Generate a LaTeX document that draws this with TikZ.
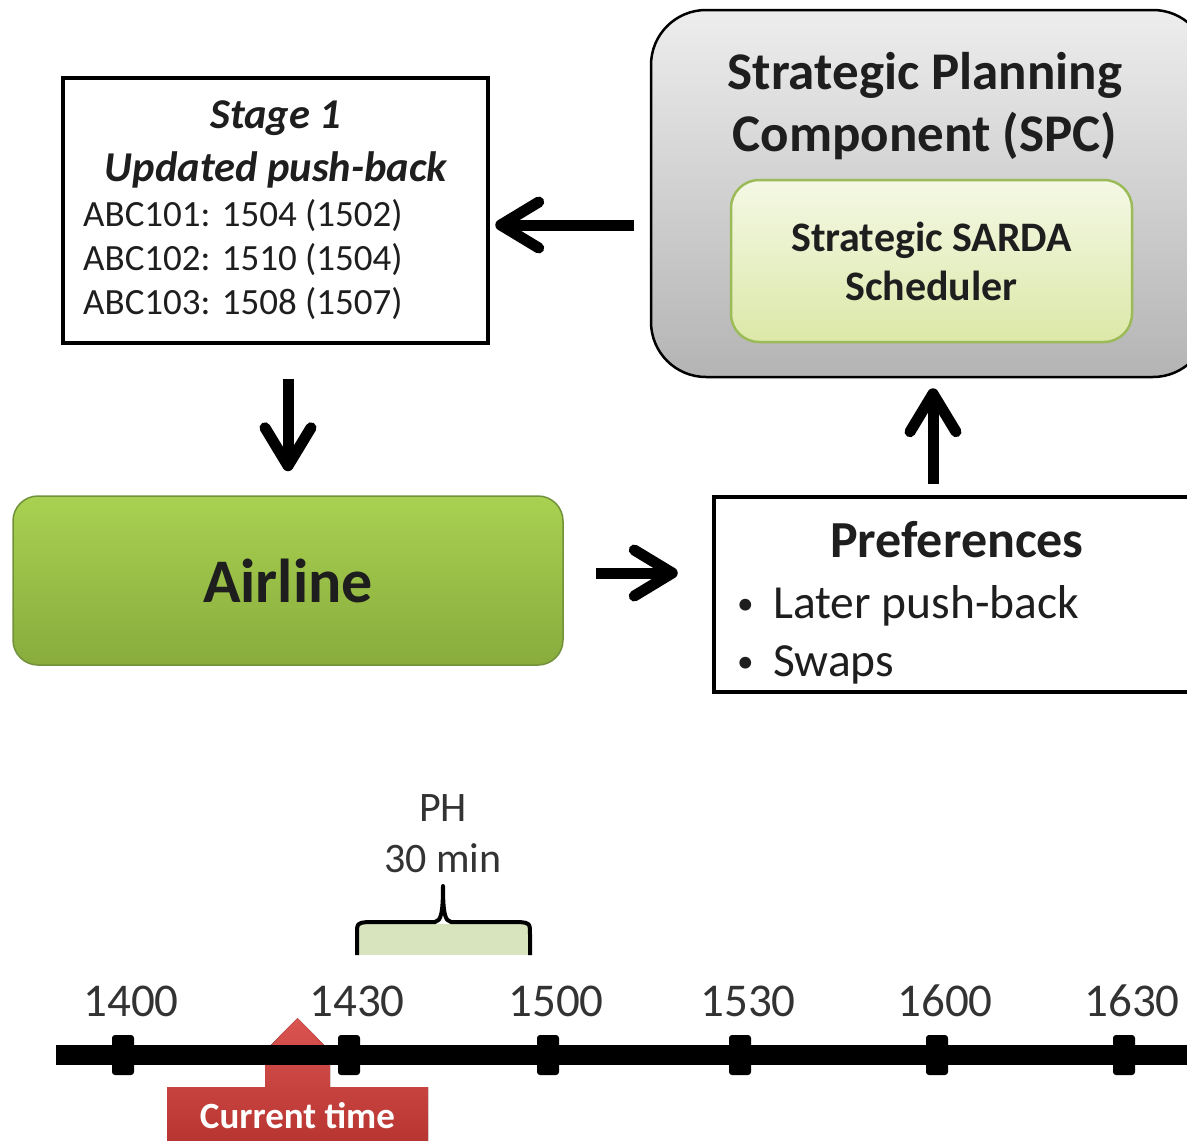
\documentclass[tikz,border=0pt]{standalone}
\usepackage{fontspec}
\setmainfont{Carlito}
\usetikzlibrary{arrows.meta, positioning, calc}

\definecolor{spctop}{HTML}{EDEDED}
\definecolor{spcbot}{HTML}{B4B4B4}
\definecolor{sardatop}{HTML}{F4F8E5}
\definecolor{sardabot}{HTML}{DCE8A8}
\definecolor{sardaline}{HTML}{9BBB59}
\definecolor{airtop}{HTML}{A9D151}
\definecolor{airbot}{HTML}{89AC3D}
\definecolor{airline}{HTML}{71913A}
\definecolor{phfill}{HTML}{D7E4BD}
\definecolor{redtop}{HTML}{DA5450}
\definecolor{redbot}{HTML}{B5332F}
\definecolor{txt}{HTML}{1E1E1E}

\newcommand{\smallbullet}{\makebox[36pt][l]{\raisebox{4pt}{\scalebox{0.7}{\textbullet}}}}

\begin{document}
\begin{tikzpicture}[
    x=1pt, y=-1pt,
    text=txt,
    arrow/.style={line width=11pt, -{Straight Barb[length=38pt, width=46pt, round]}},
    framebox/.style={draw, line width=4.5pt, inner sep=0pt, fill=white},
    spcbox/.style={draw, line width=2.5pt, rounded corners=55pt, top color=spctop, bottom color=spcbot},
    sardabox/.style={draw=sardaline, line width=2.5pt, rounded corners=28pt, top color=sardatop, bottom color=sardabot,
        align=center, font=\fontsize{42}{49}\selectfont\bfseries},
    airbox/.style={draw=airline, line width=1.5pt, rounded corners=25pt, top color=airtop, bottom color=airbot,
        font=\fontsize{62}{70}\selectfont\bfseries},
    tick/.style={fill=black, rounded corners=3pt, minimum width=22pt, minimum height=40pt, inner sep=0pt},
    ticklabel/.style={font=\fontsize{47}{56}\selectfont, text=black!80, inner sep=0pt},
    brace/.style={line width=4pt, line join=round}
]
\path[use as bounding box, clip] (0,0) rectangle (1187,1141);

% planning component with the scheduler inside
\node[spcbox, minimum width=557pt, minimum height=367pt] (spc) at (929.5,193.5) {};
\node[align=center, font=\fontsize{53}{62}\selectfont\bfseries, inner sep=0pt] (spctitle) at (925,106)
    {Strategic Planning\\Component (SPC)};
\node[sardabox, minimum width=401pt, minimum height=162pt] (sarda) at (931.5,261)
    {Strategic SARDA\\Scheduler};

% stage 1 schedule
\node[framebox, minimum width=425pt, minimum height=265pt] (stage) at (275.5,210.5) {};
\node[align=center, font=\fontsize{42.5}{53}\selectfont\bfseries\itshape, inner sep=0pt] (stagetitle) at (276,144.3)
    {Stage 1\\Updated push-back};
\node[align=left, anchor=west, font=\fontsize{37}{44}\selectfont, inner sep=0pt] (stagelist) at (83,260)
    {ABC101: 1504 (1502)\\ABC102: 1510 (1504)\\ABC103: 1508 (1507)};

% airline and its preferences
\node[airbox, minimum width=550pt, minimum height=169pt] (air) at (288,580.5) {Airline};
\node[framebox, minimum width=486pt, minimum height=195pt] (pref) at (957,594.5) {};
\node[anchor=base, font=\fontsize{52}{60}\selectfont\bfseries, inner sep=0pt] (preftitle) at (957,557) {Preferences};
\node[align=left, anchor=west, font=\fontsize{47.5}{58}\selectfont, inner sep=0pt] (preflist) at (737,634.5)
    {\smallbullet Later push-back\\\smallbullet Swaps};

% arrows
\draw[arrow, shorten <=16pt, shorten >=5pt] ([yshift=-31.5pt]spc.west) -- ([yshift=-14.5pt]stage.east);
\draw[arrow, shorten <=34pt, shorten >=24pt] (stage.south -| air.north) -- (air.north);
\draw[arrow, shorten <=32pt, shorten >=34pt] ([yshift=7.5pt]air.east) -- ([yshift=21.5pt]pref.west);
\draw[arrow, shorten <=11pt, shorten >=10pt] ([xshift=-24pt]pref.north) -- ([xshift=3.5pt]spc.south);

% planning horizon
\fill[phfill] (357,924) rectangle (531,955);
\draw[brace] (357,955) -- (357,935) .. controls (357,923) .. (368,922) -- (435,922)
    .. controls (441,921) and (443,913) .. (443,886)
    .. controls (443,913) and (445,921) .. (451,922) -- (519,922)
    .. controls (530,923) .. (530,935) -- (530,955);
\node[align=center, font=\fontsize{42}{51}\selectfont, text=black!80, inner sep=0pt] (ph) at (443,834) {PH\\30 min};

% current time marker
\fill[top color=redtop, bottom color=redbot] (167,1150) -- (167,1087) -- (265,1087) -- (265,1058) -- (258,1058)
    -- (297.5,1018) -- (337,1058) -- (330,1058) -- (330,1087) -- (428,1087) -- (428,1150) -- cycle;
\node[anchor=base, font=\fontsize{37}{44}\selectfont\bfseries, text=white, inner sep=0pt] (now) at (297.5,1128) {Current time};

% timeline
\draw[line width=20pt] (56,1055) -- (1195,1055);
\foreach \x/\lbl in {123/1400, 349/1430, 548/1500, 740/1530, 937/1600, 1124/1630} {
    \node[tick] (t\lbl) at (\x,1055) {};
    \node[ticklabel, anchor=base] (l\lbl) at (\x+8,1016) {\lbl};
}
\end{tikzpicture}
\end{document}
